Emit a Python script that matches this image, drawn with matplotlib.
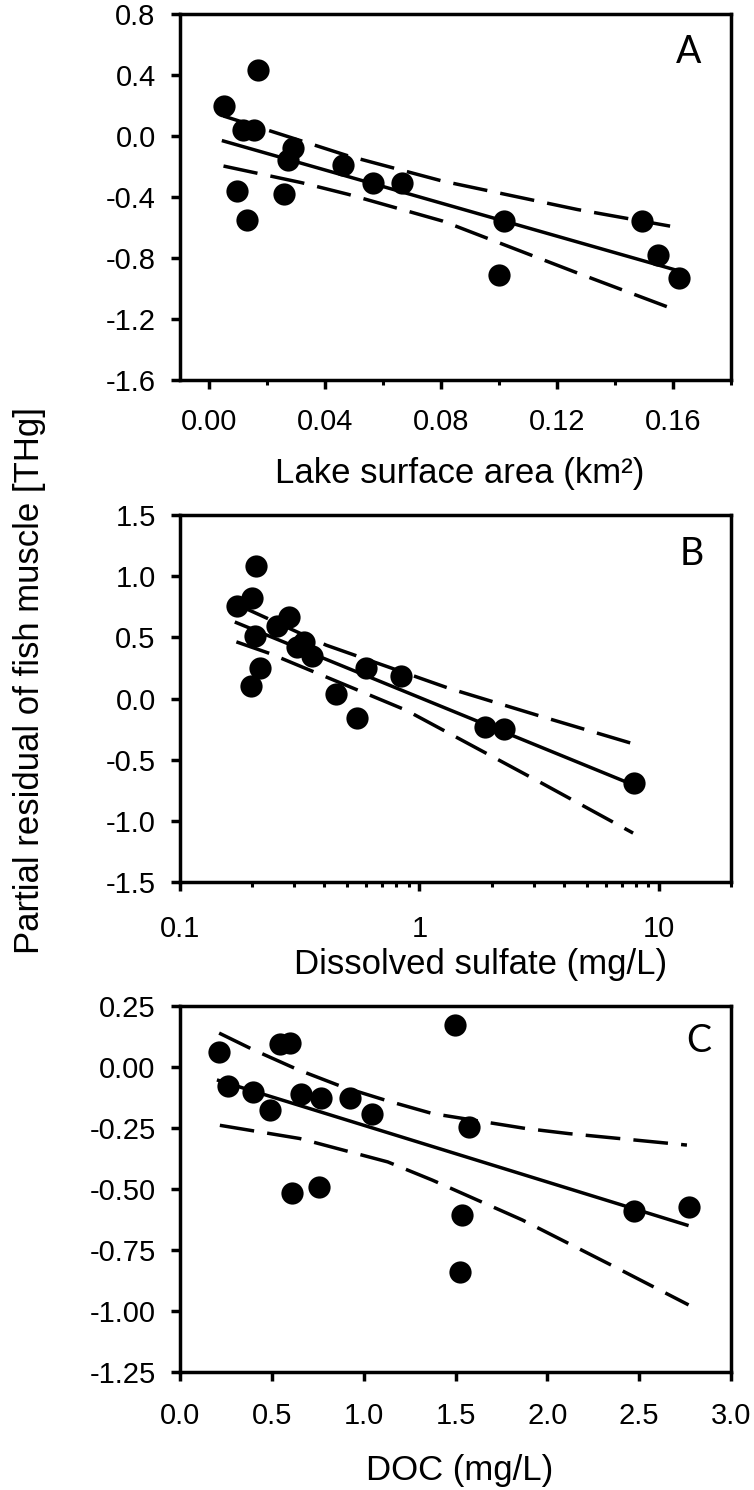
import numpy as np
import matplotlib
matplotlib.use("Agg")
import matplotlib.pyplot as plt
from matplotlib.ticker import FormatStrFormatter, MultipleLocator, NullFormatter, LogLocator

plt.rcParams['font.family'] = ['Liberation Sans', 'DejaVu Sans']
plt.rcParams['axes.unicode_minus'] = False

# Panel A - lake surface area
area_x = [0.005, 0.017, 0.0116, 0.0154, 0.0096, 0.0131, 0.0288, 0.0273, 0.0259,
          0.0461, 0.0565, 0.0667, 0.1017, 0.1000, 0.1494, 0.1548, 0.1620]
area_y = [0.20, 0.43, 0.04, 0.04, -0.36, -0.55, -0.08, -0.16, -0.38,
          -0.19, -0.31, -0.31, -0.56, -0.91, -0.56, -0.78, -0.93]
area_fit_x = [0.005, 0.163]
area_fit_y = [-0.033, -0.89]
area_hi_x = [0.005, 0.0284, 0.0481, 0.0806, 0.127, 0.159]
area_hi_y = [0.131, -0.011, -0.131, -0.296, -0.482, -0.591]
area_lo_x = [0.005, 0.0319, 0.0481, 0.0806, 0.127, 0.159]
area_lo_y = [-0.197, -0.306, -0.383, -0.558, -0.898, -1.127]

# Panel B - dissolved sulfate
sulf_x = [0.173, 0.200, 0.207, 0.205, 0.215, 0.197, 0.255, 0.284, 0.309,
          0.329, 0.357, 0.447, 0.548, 0.596, 0.839, 1.87, 2.26, 7.87]
sulf_y = [0.76, 0.82, 1.08, 0.51, 0.25, 0.10, 0.59, 0.67, 0.42,
          0.46, 0.35, 0.04, -0.16, 0.25, 0.18, -0.23, -0.25, -0.69]
sulf_fit_x = [0.172, 7.9]
sulf_fit_y = [0.62, -0.71]
sulf_hi_x = [0.172, 0.408, 1.334, 3.27, 7.74]
sulf_hi_y = [0.77, 0.436, 0.082, -0.150, -0.368]
sulf_lo_x = [0.172, 0.237, 0.880, 1.334, 3.27, 7.8]
sulf_lo_y = [0.463, 0.368, -0.096, -0.286, -0.696, -1.10]

# Panel C - DOC
doc_x = [0.213, 0.262, 0.398, 0.492, 0.543, 0.597, 0.661, 0.769, 0.923,
         1.044, 0.612, 0.756, 1.498, 1.574, 1.538, 2.470, 2.769, 1.523]
doc_y = [0.061, -0.078, -0.102, -0.175, 0.093, 0.100, -0.109, -0.129, -0.129,
         -0.194, -0.518, -0.491, 0.171, -0.245, -0.607, -0.589, -0.573, -0.839]
doc_fit_x = [0.21, 2.76]
doc_fit_y = [-0.055, -0.648]
doc_hi_x = [0.213, 0.398, 0.642, 0.887, 1.131, 1.375, 1.882, 2.117, 2.76]
doc_hi_y = [0.139, 0.071, -0.011, -0.082, -0.139, -0.191, -0.252, -0.273, -0.320]
doc_lo_x = [0.217, 0.651, 1.131, 1.375, 1.864, 2.364, 2.769]
doc_lo_y = [-0.239, -0.293, -0.389, -0.464, -0.627, -0.818, -0.975]

W, H = 754, 1490
fig = plt.figure(figsize=(W / 100, H / 100), dpi=100)


def px_axes(top, bottom, left=180, right=731):
    return fig.add_axes([left / W, 1 - bottom / H, (right - left) / W, (bottom - top) / H])


def style(ax, xpad):
    for s in ax.spines.values():
        s.set_linewidth(2.5)
    ax.tick_params(axis='both', which='major', direction='out', length=6.5, width=2.5,
                   labelsize=21, top=False, right=False)
    ax.tick_params(axis='both', which='minor', direction='out', length=3.5, width=2.2,
                   top=False, right=False, left=False)
    ax.tick_params(axis='y', pad=11)
    ax.tick_params(axis='x', pad=xpad)


def draw(ax, x, y, fx, fy, hx, hy, lx, ly):
    ax.plot(fx, fy, color='black', lw=2.5, zorder=2)
    ax.plot(hx, hy, color='black', lw=2.5, dashes=(10, 3.8), zorder=2)
    ax.plot(lx, ly, color='black', lw=2.5, dashes=(10, 3.8), zorder=2)
    ax.plot(x, y, 'o', color='black', markersize=16, markeredgewidth=0, zorder=3)


# A
axA = px_axes(14, 380)
draw(axA, area_x, area_y, area_fit_x, area_fit_y, area_hi_x, area_hi_y, area_lo_x, area_lo_y)
axA.set_xlim(-0.01, 0.18)
axA.set_ylim(-1.6, 0.8)
axA.xaxis.set_major_locator(MultipleLocator(0.04))
axA.xaxis.set_minor_locator(MultipleLocator(0.02))
axA.xaxis.set_major_formatter(FormatStrFormatter('%.2f'))
axA.yaxis.set_major_locator(MultipleLocator(0.4))
axA.yaxis.set_major_formatter(FormatStrFormatter('%.1f'))
style(axA, 14)

# B
axB = px_axes(515, 882)
draw(axB, sulf_x, sulf_y, sulf_fit_x, sulf_fit_y, sulf_hi_x, sulf_hi_y, sulf_lo_x, sulf_lo_y)
axB.set_xscale('log')
axB.set_xlim(0.1, 20)
axB.set_ylim(-1.5, 1.5)
axB.set_xticks([0.1, 1, 10])
axB.set_xticklabels(['0.1', '1', '10'])
axB.xaxis.set_minor_locator(LogLocator(base=10, subs=np.arange(2, 10)))
axB.xaxis.set_minor_formatter(NullFormatter())
axB.yaxis.set_major_locator(MultipleLocator(0.5))
axB.yaxis.set_major_formatter(FormatStrFormatter('%.1f'))
style(axB, 17.5)

# C
axC = px_axes(1006, 1372)
draw(axC, doc_x, doc_y, doc_fit_x, doc_fit_y, doc_hi_x, doc_hi_y, doc_lo_x, doc_lo_y)
axC.set_xlim(0, 3)
axC.set_ylim(-1.25, 0.25)
axC.xaxis.set_major_locator(MultipleLocator(0.5))
axC.xaxis.set_major_formatter(FormatStrFormatter('%.1f'))
axC.yaxis.set_major_locator(MultipleLocator(0.25))
axC.yaxis.set_major_formatter(FormatStrFormatter('%.2f'))
style(axC, 15)


def ftext(x, y, s, **kw):
    fig.text(x / W, 1 - y / H, s, **kw)


ftext(460, 483, 'Lake surface area (km²)', fontsize=25, ha='center', va='baseline')
ftext(481, 974, 'Dissolved sulfate (mg/L)', fontsize=25, ha='center', va='baseline')
ftext(460, 1480, 'DOC (mg/L)', fontsize=25, ha='center', va='baseline')
ftext(30, 680, 'Partial residual of fish muscle [THg]', fontsize=25,
      rotation=90, ha='center', va='center')

for lab, x, y in [('A', 689, 63), ('B', 692, 565), ('C', 699, 1052)]:
    ftext(x, y, lab, fontsize=27, family=['Lato', 'DejaVu Sans'], ha='center', va='baseline')

fig.savefig('out.png', dpi=100)
